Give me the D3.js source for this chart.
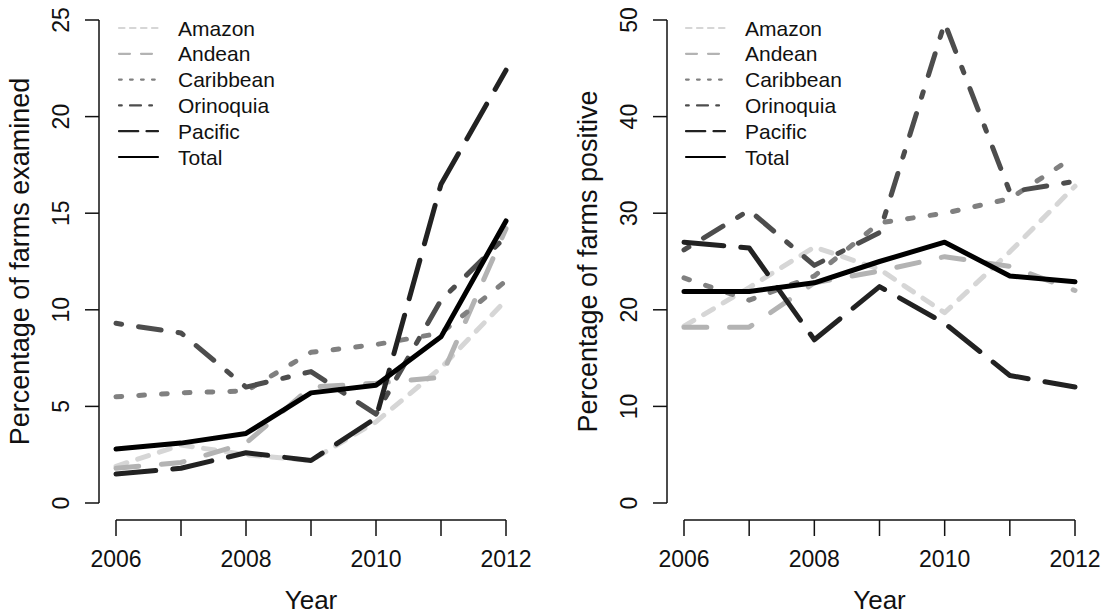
<!DOCTYPE html>
<html>
<head>
<meta charset="utf-8">
<script src="https://cdn.jsdelivr.net/npm/d3@7"></script>
<style>
  body { margin: 0; background: #fff; }
  svg text { font-family: "Liberation Sans", Arial, sans-serif; fill: #111; }
</style>
</head>
<body>
<div id="visualization"></div>
<script>
const years = [2006, 2007, 2008, 2009, 2010, 2011, 2012];
const regions = ["Amazon", "Andean", "Caribbean", "Orinoquia", "Pacific", "Total"];

// percentage of farms examined (left panel)
const examinedAmazon = [1.9, 3.0, 2.5, 2.2, 4.2, 7.0, 10.5];
const examinedAndean = [1.8, 2.1, 3.1, 6.0, 6.2, 6.5, 14.2];
const examinedCaribbean = [5.5, 5.7, 5.8, 7.8, 8.2, 8.8, 11.5];
const examinedOrinoquia = [9.3, 8.8, 6.0, 6.8, 4.6, 10.5, 13.8];
const examinedPacific = [1.5, 1.8, 2.6, 2.2, 4.4, 16.5, 22.4];
const examinedTotal = [2.8, 3.1, 3.6, 5.7, 6.1, 8.6, 14.6];

// percentage of farms positive (right panel)
const positiveAmazon = [18.3, 22.3, 26.5, 24.2, 19.7, 26.0, 32.8];
const positiveAndean = [18.2, 18.2, 22.8, 24.0, 25.5, 24.5, 22.0];
const positiveCaribbean = [23.3, 21.0, 23.5, 29.0, 30.0, 31.5, 35.9];
const positiveOrinoquia = [26.2, 30.3, 24.6, 28.0, 49.7, 32.2, 33.3];
const positivePacific = [27.0, 26.4, 16.9, 22.4, 18.6, 13.2, 12.0];
const positiveTotal = [21.9, 21.9, 22.8, 25.0, 27.0, 23.5, 22.9];

const yTicksLeft = [0, 5, 10, 15, 20, 25];
const yTicksRight = [0, 10, 20, 30, 40, 50];
const xTicks = [2006, 2007, 2008, 2009, 2010, 2011, 2012];
const xLabels = [2006, 2008, 2010, 2012];

const greys = ["#d6d6d6", "#b3b3b3", "#808080", "#4d4d4d", "#222222", "#000000"];
// R style lty codes: "22", dashed, dotted, dotdash, longdash, solid
const ltys = [[2, 2], [4, 4], [1, 3], [1, 3, 4, 3], [7, 3], null];

const W = 1104, H = 616;
const svg = d3.select("#visualization").append("svg")
  .attr("width", W).attr("height", H);

function dash(pattern, s) {
  return pattern ? pattern.map(v => v * s).join(",") : null;
}

function panel(opts) {
  const x = d3.scaleLinear().domain([2006, 2012]).range([opts.x0, opts.x1]);
  const y = d3.scaleLinear().domain([0, opts.ymax]).range([503, 20]);
  const g = svg.append("g");

  // y axis
  g.append("line")
    .attr("x1", opts.axisX).attr("x2", opts.axisX)
    .attr("y1", y(0)).attr("y2", y(opts.ymax))
    .attr("stroke", "#111").attr("stroke-width", 1.5);
  opts.yTicks.forEach(t => {
    g.append("line")
      .attr("x1", opts.axisX - 14).attr("x2", opts.axisX)
      .attr("y1", y(t)).attr("y2", y(t))
      .attr("stroke", "#111").attr("stroke-width", 1.5);
    g.append("text")
      .attr("transform", `translate(${opts.axisX - 30},${y(t)}) rotate(-90)`)
      .attr("text-anchor", "middle")
      .attr("font-size", "23px")
      .text(t);
  });
  g.append("text")
    .attr("transform", `translate(${opts.axisX - 70},${(y(0) + y(opts.ymax)) / 2}) rotate(-90)`)
    .attr("text-anchor", "middle")
    .attr("font-size", "27px")
    .text(opts.ylab);

  // x axis
  g.append("line")
    .attr("x1", x(2006)).attr("x2", x(2012))
    .attr("y1", 520).attr("y2", 520)
    .attr("stroke", "#111").attr("stroke-width", 1.5);
  xTicks.forEach(t => {
    g.append("line")
      .attr("x1", x(t)).attr("x2", x(t))
      .attr("y1", 520).attr("y2", 536)
      .attr("stroke", "#111").attr("stroke-width", 1.5);
  });
  xLabels.forEach(t => {
    g.append("text")
      .attr("x", x(t)).attr("y", 567)
      .attr("text-anchor", "middle")
      .attr("font-size", "23px")
      .text(t);
  });
  g.append("text")
    .attr("x", (x(2006) + x(2012)) / 2).attr("y", 609)
    .attr("text-anchor", "middle")
    .attr("font-size", "26px")
    .text("Year");

  // series
  const line = d3.line().x((d, i) => x(years[i])).y(d => y(d));
  opts.series.forEach((vals, k) => {
    g.append("path")
      .datum(vals)
      .attr("d", line)
      .attr("fill", "none")
      .attr("stroke", greys[k])
      .attr("stroke-width", 5)
      .attr("stroke-linecap", "round")
      .attr("stroke-linejoin", "round")
      .attr("stroke-dasharray", dash(ltys[k], 5.7));
  });

  // legend
  const leg = g.selectAll(".legend")
    .data(regions)
    .enter()
    .append("g")
    .attr("transform", (d, i) => `translate(${opts.legX}, ${28 + i * 25.8})`);
  leg.append("line")
    .attr("x1", 1).attr("x2", 40)
    .attr("stroke", (d, i) => greys[i])
    .attr("stroke-width", 2.2)
    .attr("stroke-linecap", "round")
    .attr("stroke-dasharray", (d, i) => dash(ltys[i], 2.75));
  leg.append("text")
    .attr("x", 60).attr("y", 7.5)
    .attr("font-size", "21px")
    .text(d => d);
}

panel({
  x0: 116, x1: 506, axisX: 99, ymax: 25, yTicks: yTicksLeft, legX: 118,
  ylab: "Percentage of farms examined",
  series: [examinedAmazon, examinedAndean, examinedCaribbean, examinedOrinoquia, examinedPacific, examinedTotal]
});

panel({
  x0: 684, x1: 1075, axisX: 667, ymax: 50, yTicks: yTicksRight, legX: 685,
  ylab: "Percentage of farms positive",
  series: [positiveAmazon, positiveAndean, positiveCaribbean, positiveOrinoquia, positivePacific, positiveTotal]
});
</script>
</body>
</html>
